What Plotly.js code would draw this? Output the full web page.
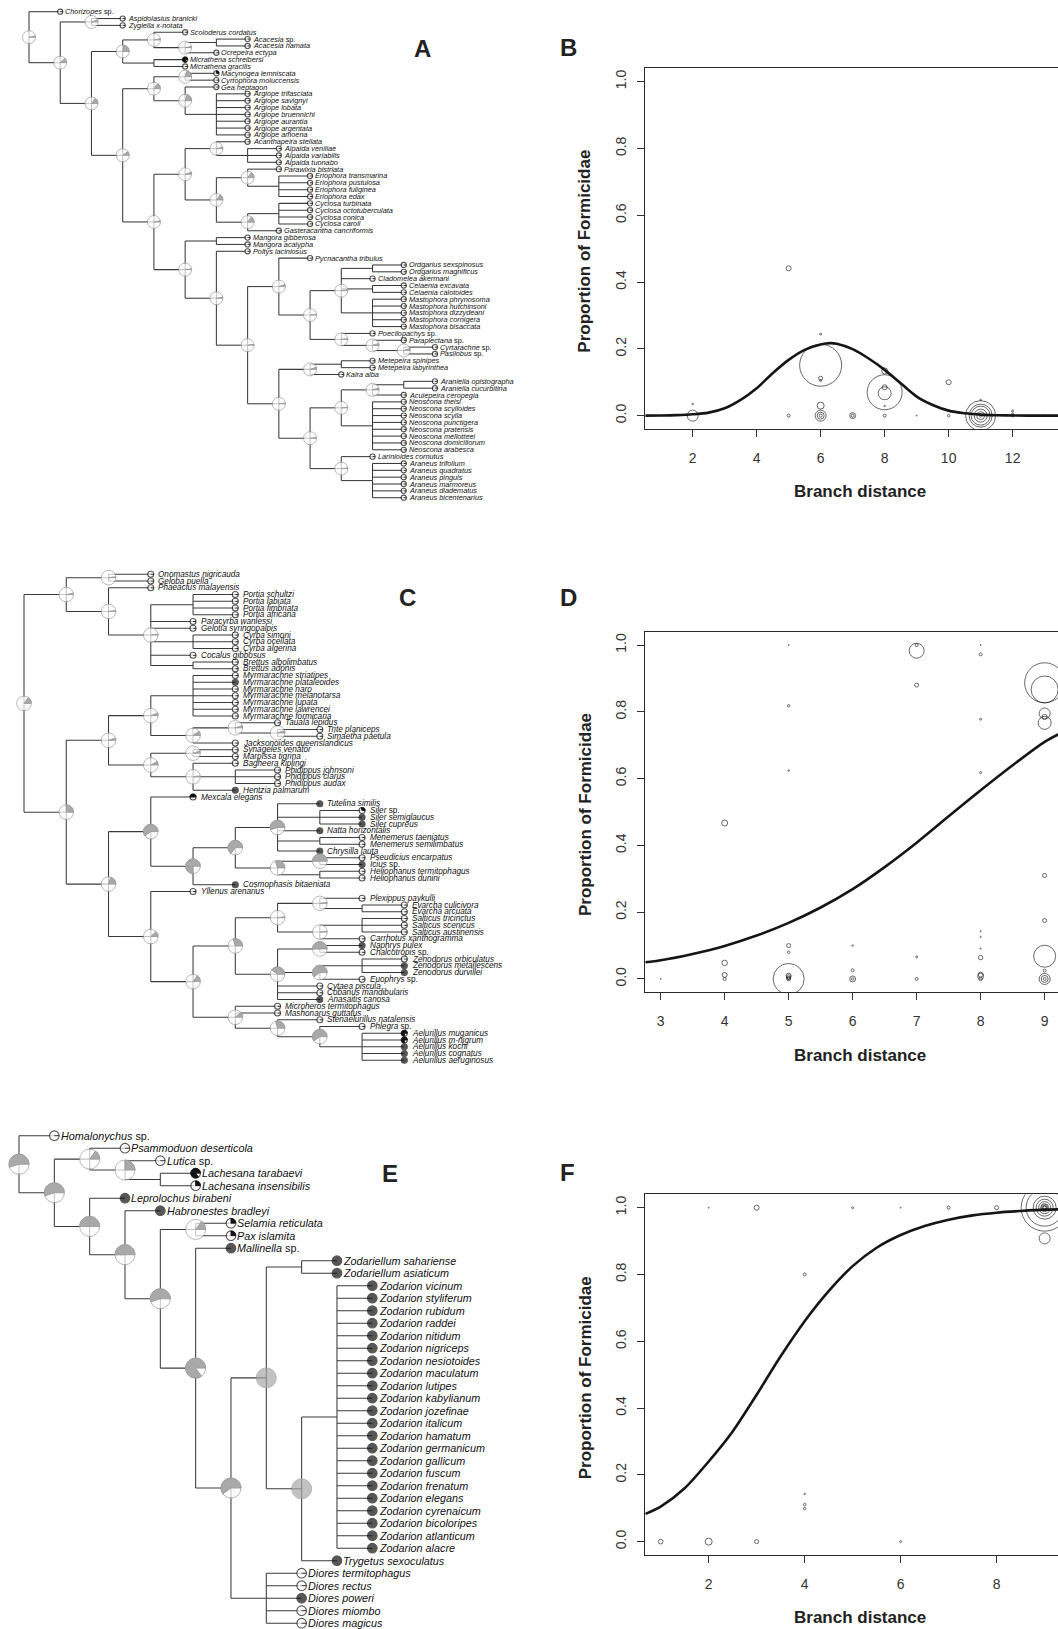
<!DOCTYPE html>
<html><head><meta charset="utf-8">
<script src="https://cdn.plot.ly/plotly-3.0.1.min.js"></script>
<style>html,body{margin:0;padding:0;overflow:hidden;background:#fff}</style>
</head><body><div id="chart"></div>
<script>
// ================= DATA =================
// Panel B
const bX = [2,2,5,5,6,6,6,6,6,6,6,6,7,7,8,8,8,8,8,8,9,10,10,11,11,11,11,11,11,11,12,12,12,13];
const bY = [0.035,0,0.441,0,0.244,0.151,0.112,0.105,0.03,0,0,0,0,0,0.134,0.085,0.07,0.067,0.029,0,0,0.1,0,0.047,0,0,0,0,0,0,0.014,0.005,0,0];
const bS = [1.5,11,5,3,2,42,4,2,7,11,7,3,6,3,6,5,35,13,1.5,3,1,5,2.5,1.5,30,23,19,13,8,3,2,2,2.5,1.5];
const bCurveX = [0.52,1,1.5,2,2.5,3,3.5,4,4.5,5,5.5,6,6.3,6.5,7,7.5,8,8.5,9,9.5,10,10.5,11,11.5,12,13,13.48];
const bCurveY = [0,0.0003,0.0015,0.004,0.009,0.022,0.047,0.082,0.127,0.167,0.197,0.213,0.217,0.215,0.199,0.171,0.137,0.097,0.057,0.032,0.015,0.007,0.003,0.0013,0.0005,0,0];
const bXTicks = [2,4,6,8,10,12];

// Panel D
const dX = [3,4,4,4,4,5,5,5,5,5,5,5,5,5,5,6,6,6,6,7,7,7,7,7,8,8,8,8,8,8,8,8,8,8,8,9,9,9,9,9,9,9,9,9,9,9,9];
const dY = [0,0.467,0.048,0.012,0,1,0.818,0.624,0.1,0.08,0,0.01,0.006,0.003,0,0.1,0.026,0,0,1,0.983,0.88,0.066,0,1,0.972,0.778,0.618,0.143,0.126,0.091,0.064,0.013,0.008,0,0.887,0.867,0.795,0.785,0.767,0.31,0.175,0.068,0.025,0,0,0];
const dS = [1,6,5.5,5,3,1,2.5,1.5,4,2.5,31,5,4.5,3.5,4,1.5,3,6,2.5,3,15,4,2,3,1,3,2,2,1.2,1.2,1.2,4.5,5,6,3.5,40,27,11,5,13,4,4,22,3,11,7,3];
const dCurveX = [2.76,3,3.5,4,4.5,5,5.5,6,6.5,7,7.5,8,8.5,9,9.24];
const dCurveY = [0.05,0.056,0.075,0.099,0.13,0.168,0.214,0.269,0.335,0.408,0.487,0.565,0.64,0.71,0.735];
const dXTicks = [3,4,5,6,7,8,9];

// Panel F
const fX = [1,2,2,3,3,4,4,4,4,5,6,6,7,8,9,9,9,9,9,9,9,9,9,9];
const fY = [0,1,0,1,0,0.8,0.143,0.111,0.099,1,1,0,1,1,1,1,1,1,1,1,1,1,1,0.908];
const fS = [4.7,1,7,5,4,3,1.5,2.5,2.5,2,1,2,3,4,47,37,23,17,12,8,6,4,3,11];
const fCurveX = [0.68,1,1.5,2,2.5,3,3.5,4,4.5,5,5.5,6,6.5,7,7.5,8,8.5,9,9.32];
const fCurveY = [0.083,0.105,0.16,0.24,0.33,0.44,0.555,0.66,0.75,0.825,0.88,0.918,0.945,0.964,0.977,0.985,0.99,0.994,0.995];
const fXTicks = [2,4,6,8];

const yTicks = [0,0.2,0.4,0.6,0.8,1.0];
const yTickText = ['0.0','0.2','0.4','0.6','0.8','1.0'];

// Tree A (Araneidae)
const A_n7 = "((Ordgarius sexspinosus,Ordgarius magnificus),Cladomelea akermani,(Celaenia excavata,Celaenia calotoides),(Mastophora phrynosoma,Mastophora hutchinsoni,Mastophora dizzydeani,Mastophora cornigera,Mastophora bisaccata))";
const A_n8 = "(Poecilopachys sp.,(Paraplectana sp.,(Cyrtarachne sp.,Pasilobus sp.)))";
const A_n13 = "(((Araniella opistographa,Araniella cucurbitina),Aculepeira ceropegia),(Neoscona theisi,Neoscona scylloides,Neoscona scylla,Neoscona punctigera,Neoscona pratensis,Neoscona mellotteei,Neoscona domiciliorum,Neoscona arabesca))";
const A_n14 = "(Larinioides cornutus,(Araneus trifolium,Araneus quadratus,Araneus pinguis,Araneus marmoreus,Araneus diadematus,Araneus bicentenarius))";
const A_n11 = "((Metepeira spinipes,Metepeira labyrinthea),Kaira alba)";
const A_n553d = "((Acanthapeira stellata,(Alpaida veniliae,Alpaida variabilis,Alpaida tuonabo)),((Parawixia bistriata,(Eriophora transmarina,Eriophora pustulosa,Eriophora fuliginea,Eriophora edax)),((Cyclosa turbinata,Cyclosa octotuberculata,Cyclosa conica,Cyclosa caroli),Gasteracantha cancriformis)))";
const A_n460b = "((Macynogea lemniscata,Cyrtophora moluccensis),(Gea heptagon,(Argiope trifasciata,Argiope savignyi,Argiope lobata,Argiope bruennichi,Argiope aurantia,Argiope argentata,Argiope amoena)))";
const A_n367a = "((Scoloderus cordatus,((Acacesia sp.,Acacesia hamata),Ocrepeira ectypa)),(Micrathena schreibersi,Micrathena gracilis))";
const A_n3 = "((Pycnacantha tribulus,(" + A_n7 + "," + A_n8 + ")),(" + A_n11 + ",(" + A_n13 + "," + A_n14 + ")))";
const A_n1 = "((Mangora gibberosa,Mangora acalypha),(Poltys laciniosus," + A_n3 + "))";
const newickA = "(Chorizopes sp.,((Aspidolasius branicki,Zygiella x-notata),(" + A_n367a + ",(" + A_n460b + ",(" + A_n553d + "," + A_n1 + ")))));";
const pieValsA = [0.03,0.12,0.05,0.15,0.22,0.03,0.03,0.1,0.15,0.2,0.2,0.03,0.05,0.03,0.15,0.15,0.15,0.02,0.02,0.02,0.05,0.02,0.02,0.02,0.05,0.05,0.02,0.05,0.02,0.02,0.05,0.02];
const tipBlackNamesA = ["Micrathena schreibersi","Macynogea lemniscata"];
const tipBlackValsA = [0.85,0.25];

// Tree C (Salticidae)
const C_a4 = "((Portia schultzi,Portia labiata,Portia fimbriata,Portia africana),Paracyrba wanlessi,Gelotia syringopalpis,(Cyrba simoni,Cyrba ocellata,Cyrba algerina),Cocalus gibbosus,(Brettus albolimbatus,Brettus adonis))";
const C_a1 = "((Onomastus nigricauda,Geloba puella),(Phaeacius malayensis," + C_a4 + "))";
const C_b4 = "((Myrmarachne striatipes,Myrmarachne plataleoides,Myrmarachne naro,Myrmarachne melanotarsa,Myrmarachne lupata,Myrmarachne lawrencei,Myrmarachne formicaria),((Tauala lepidus,(Trite planiceps,Simaetha paetula)),Jacksonoides queenslandicus))";
const C_b5 = "((Synageles venator,Marpissa tigrina),(Bagheera kiplingi,(Phidippus johnsoni,Phidippus clarus,Phidippus audax),Hentzia palmarum))";
const C_c5 = "(Tutelina similis,(Siler sp.,Siler semiglaucus,Siler cupreus),Natta horizontalis,(Menemerus taeniatus,Menemerus semilimbatus),Chrysilla lauta)";
const C_c6 = "((Pseudicius encarpatus,Icius sp.),(Heliophanus termitophagus,Heliophanus dunini))";
const C_c11 = "((Plexippus paykulli,(Evarcha culicivora,Evarcha arcuata)),((Salticus tricinctus,Salticus scenicus,Salticus austinensis),Carrhotus xanthogramma))";
const C_c12 = "((Naphrys pulex,Chalcotropis sp.),((Zenodorus orbiculatus,Zenodorus metallescens,Zenodorus durvillei),Euophrys sp.),Cytaea piscula,Cobanus mandibularis,Anasaitis canosa)";
const C_c10 = "(Microheros termitophagus,Mashonarus guttatus,(Stenaelurillus natalensis,(Phlegra sp.,(Aelurillus muganicus,Aelurillus m-nigrum,Aelurillus kochi,Aelurillus cognatus,Aelurillus aeruginosus))))";
const C_b3 = "((Mexcala elegans,((" + C_c5 + "," + C_c6 + "),Cosmophasis bitaeniata)),(Yllenus arenarius,((" + C_c11 + "," + C_c12 + ")," + C_c10 + ")))";
const newickC = "(" + C_a1 + ",((" + C_b4 + "," + C_b5 + ")," + C_b3 + "));";
const pieValsC = [0.15,0.03,0.02,0.02,0.02,0.25,0.05,0.06,0.1,0.05,0.05,0.08,0.05,0.02,0.2,0.6,0.75,0.65,0.55,0.3,0.5,0.12,0.15,0.3,0.02,0.02,0.02,0.4,0.5,0.6,0.12,0.3,0.6];
const tipBlackNamesC = ["Myrmarachne plataleoides","Hentzia palmarum","Mexcala elegans","Tutelina similis","Siler sp.","Siler semiglaucus","Siler cupreus","Natta horizontalis","Chrysilla lauta","Icius sp.","Cosmophasis bitaeniata","Naphrys pulex","Zenodorus metallescens","Zenodorus durvillei","Anasaitis canosa","Aelurillus muganicus","Aelurillus m-nigrum","Aelurillus kochi","Aelurillus cognatus","Aelurillus aeruginosus"];
const tipBlackValsC = [1,1,0.5,1,0.3,1,1,1,1,1,1,1,1,1,1,0.75,0.75,1,1,1];

// Tree E (Zodariidae)
const E_zod = "(Zodarion vicinum,Zodarion styliferum,Zodarion rubidum,Zodarion raddei,Zodarion nitidum,Zodarion nigriceps,Zodarion nesiotoides,Zodarion maculatum,Zodarion lutipes,Zodarion kabylianum,Zodarion jozefinae,Zodarion italicum,Zodarion hamatum,Zodarion germanicum,Zodarion gallicum,Zodarion fuscum,Zodarion frenatum,Zodarion elegans,Zodarion cyrenaicum,Zodarion bicoloripes,Zodarion atlanticum,Zodarion alacre)";
const E_dio = "(Diores termitophagus,Diores rectus,Diores poweri,Diores miombo,Diores magicus)";
const E_e10 = "(((Zodariellum sahariense,Zodariellum asiaticum),(" + E_zod + ",Trygetus sexoculatus))," + E_dio + ")";
const newickE = "(Homalonychus sp.,((Psammoduon deserticola,(Lutica sp.,(Lachesana tarabaevi,Lachesana insensibilis))),(Leprolochus birabeni,(Habronestes bradleyi,((Selamia reticulata,Pax islamita),(Mallinella sp.," + E_e10 + "))))));";
const pieValsE = [0.55,0.55,0.15,0.25,0.5,0.5,0.55,0.15,0.85,0.6,1,1];
const tipValsE = [0,0,0,0.85,0.25,1,1,0.25,0.25,1,1,1,1,1,1,1,1,1,1,1,1,1,1,1,1,1,1,1,1,1,1,1,1,1,1,0,0,1,0,0];

// ================= BUILD =================
const W = 1062, H = 1629;
const FONT = 'Liberation Sans, Arial, Helvetica, sans-serif';
const GREY = '#a9a9a9', GREYLINE = '#9a9a9a', BLACK = '#111111';

function parseNewick(s){
  let i = 0;
  function node(){
    if (s[i] === '('){
      i++; const kids = [];
      while (true){
        kids.push(node());
        if (s[i] === ','){ i++; continue; }
        if (s[i] === ')'){ i++; break; }
        throw new Error('bad newick at ' + i);
      }
      return {children: kids};
    }
    const st = i;
    while (i < s.length && !',();'.includes(s[i])) i++;
    return {name: s.slice(st, i).trim()};
  }
  return node();
}

function labelHTML(name){
  const m = name.match(/^(.*) sp\.$/);
  return m ? '<i>' + m[1] + '</i> sp.' : '<i>' + name + '</i>';
}

function sectorPath(r, p){
  if (p <= 0) return 'M0,0 L' + r + ',0';
  const n = Math.max(4, Math.ceil(60 * p));
  let d = 'M0,0 L' + r + ',0';
  for (let k = 1; k <= n; k++){
    const a = 2 * Math.PI * p * k / n;
    d += ' L' + (r * Math.cos(a)).toFixed(2) + ',' + (r * Math.sin(a)).toFixed(2);
  }
  return d + ' Z';
}

const traces = [], shapes = [], annotations = [];

function drawTree(newick, pieVals, tipVal, cfg){
  const root = parseNewick(newick);
  const tips = [], internals = [];
  (function walk(n, depth){
    n.depth = depth;
    if (!n.children){
      n.y = tips.length; tips.push(n);
      n.genera = new Set([n.name.split(' ')[0]]);
      return;
    }
    internals.push(n);
    n.children.forEach(c => walk(c, depth + 1));
    n.y = (n.children[0].y + n.children[n.children.length - 1].y) / 2;
    n.genera = new Set();
    n.children.forEach(c => c.genera.forEach(g => n.genera.add(g)));
  })(root, 0);

  // branches
  const lx = [], ly = [];
  internals.forEach(n => {
    const f = n.children[0], l = n.children[n.children.length - 1];
    lx.push(n.depth, n.depth, null); ly.push(f.y, l.y, null);
    n.children.forEach(c => { lx.push(n.depth, c.depth, null); ly.push(c.y, c.y, null); });
  });
  traces.push({type:'scatter', mode:'lines', x:lx, y:ly, xaxis:cfg.xa, yaxis:cfg.ya,
    line:{color:'#3a3a3a', width:1.05}, hoverinfo:'skip'});

  // pies
  const pies = [];
  let k = 0;
  internals.forEach(n => { if (n.genera.size > 1){ pies.push({n, p: pieVals[k] || 0, r: cfg.rNode, fill: GREY, line: GREYLINE, w: 1}); k++; } });
  tips.forEach((t, i) => pies.push({n:t, p: tipVal(t.name, i), r: cfg.rTip, fill: BLACK, line: BLACK, w: cfg.tipW}));

  traces.push({type:'scatter', mode:'markers', xaxis:cfg.xa, yaxis:cfg.ya, cliponaxis:false, hoverinfo:'skip',
    x: pies.map(o => o.n.depth), y: pies.map(o => o.n.y),
    marker:{symbol:'circle', size: pies.map(o => 2 * o.r),
      color: pies.map(o => o.p >= 0.999 ? o.fill : '#ffffff'),
      line:{color: pies.map(o => o.line), width: pies.map(o => o.w)}}});

  pies.forEach(o => {
    if (o.p >= 0.999) return;
    shapes.push({type:'path', xref:cfg.xa, yref:cfg.ya, xsizemode:'pixel', ysizemode:'pixel',
      xanchor:o.n.depth, yanchor:o.n.y, path: sectorPath(o.r, o.p),
      fillcolor: o.p > 0 ? o.fill : 'rgba(0,0,0,0)', line:{color:o.line, width:0.9}, layer:'above'});
  });

  tips.forEach(t => {
    annotations.push({xref:cfg.xa, yref:cfg.ya, x:t.depth, y:t.y, xshift:cfg.shift, xanchor:'left', yanchor:'middle',
      text: labelHTML(t.name), showarrow:false, borderpad:0,
      font:{family:FONT, size:cfg.fs, color:'#111'}});
  });
}

function treeAxes(left, right, top, bottom, x0, dx, y0, dy, anchorX, anchorY){
  return [
    {domain:[left / W, right / W], range:[(left - x0) / dx, (right - x0) / dx], visible:false, fixedrange:true, anchor:anchorY},
    {domain:[1 - bottom / H, 1 - top / H], range:[(bottom - y0) / dy, (top - y0) / dy], visible:false, fixedrange:true, anchor:anchorX}
  ];
}

function nameMap(names, vals){ const m = {}; names.forEach((n, i) => m[n] = vals[i]); return m; }
const mapA = nameMap(tipBlackNamesA, tipBlackValsA);
const mapC = nameMap(tipBlackNamesC, tipBlackValsC);

drawTree(newickA, pieValsA, (nm) => mapA[nm] || 0, {xa:'x4', ya:'y4', rNode:6.5, rTip:2.6, tipW:1.1, fs:7.3, shift:4});
drawTree(newickC, pieValsC, (nm) => mapC[nm] || 0, {xa:'x5', ya:'y5', rNode:7.3, rTip:3, tipW:1.1, fs:8.2, shift:6.5});
drawTree(newickE, pieValsE, (nm, i) => tipValsE[i] || 0, {xa:'x6', ya:'y6', rNode:10, rTip:4.8, tipW:1.1, fs:10.8, shift:5.5});

// scatter panels
function bubbles(x, y, s, xa, ya){
  traces.push({type:'scatter', mode:'markers', x, y, xaxis:xa, yaxis:ya, hoverinfo:'skip',
    marker:{symbol:'circle', size:s, color:'rgba(0,0,0,0)', line:{color:'#111', width:0.9}}});
}
function curve(x, y, xa, ya){
  traces.push({type:'scatter', mode:'lines', x, y, xaxis:xa, yaxis:ya, hoverinfo:'skip',
    line:{color:'#151515', width:2.6, shape:'spline', smoothing:0.8}});
}
bubbles(bX, bY, bS, 'x', 'y'); curve(bCurveX, bCurveY, 'x', 'y');
bubbles(dX, dY, dS, 'x2', 'y2'); curve(dCurveX, dCurveY, 'x2', 'y2');
bubbles(fX, fY, fS, 'x3', 'y3'); curve(fCurveX, fCurveY, 'x3', 'y3');

function panelAxes(top, bottom, xr, xticks, ax, ay){
  const common = {ticks:'outside', ticklen:7, tickwidth:1, tickcolor:'#333', showline:true, linecolor:'#2a2a2a', linewidth:1.1,
    showgrid:false, zeroline:false, fixedrange:true, tickfont:{family:FONT, size:14, color:'#333'}};
  return [
    Object.assign({}, common, {domain:[645.3 / W, 1060 / W], range:xr, tickmode:'array', tickvals:xticks, mirror:true, anchor:ay, ticklabelstandoff:9}),
    Object.assign({}, common, {domain:[1 - bottom / H, 1 - top / H], range:[-0.04, 1.04], tickmode:'array', tickvals:yTicks, ticktext:yTickText, tickangle:-90, anchor:ax, ticklabelstandoff:6})
  ];
}
const [xB, yB] = panelAxes(68.3, 429, [0.52, 13.48], bXTicks, 'x', 'y');
const [xD, yD] = panelAxes(631.7, 992.3, [2.76, 9.24], dXTicks, 'x2', 'y2');
const [xF, yF] = panelAxes(1194.3, 1555, [0.68, 9.32], fXTicks, 'x3', 'y3');
const [xA4, yA4] = treeAxes(0, 560, 0, 540, 29, 31.23, 11.7, 6.845, 'x4', 'y4');
const [xC5, yC5] = treeAxes(0, 560, 545, 1100, 24, 42.26, 574.3, 6.75, 'x5', 'y5');
const [xE6, yE6] = treeAxes(0, 560, 1105, 1629, 19, 35.33, 1135.7, 12.5, 'x6', 'y6');

function paperText(px, py, text, size, angle){
  annotations.push({xref:'paper', yref:'paper', x:px / W, y:1 - py / H, xanchor:'center', yanchor:'middle',
    text, showarrow:false, textangle:angle || 0, font:{family:FONT, size, color:'#222'}});
}
// panel letters
paperText(422, 48, '<b>A</b>', 24); paperText(568, 47, '<b>B</b>', 24);
paperText(407, 598, '<b>C</b>', 24); paperText(568, 598, '<b>D</b>', 24);
paperText(390, 1173, '<b>E</b>', 24); paperText(567, 1172, '<b>F</b>', 24);
// axis titles
[[491.7, 251.7], [1055, 815], [1617.3, 1378.3]].forEach(([tx, ty]) => {
  paperText(860, tx, '<b>Branch distance</b>', 17);
  paperText(585, ty, '<b>Proportion of Formicidae</b>', 17, -90);
});

const layout = {
  width: W, height: H, margin:{l:0, r:0, t:0, b:0}, paper_bgcolor:'#fff', plot_bgcolor:'rgba(0,0,0,0)',
  showlegend:false, font:{family:FONT},
  xaxis:xB, yaxis:yB, xaxis2:xD, yaxis2:yD, xaxis3:xF, yaxis3:yF,
  xaxis4:xA4, yaxis4:yA4, xaxis5:xC5, yaxis5:yC5, xaxis6:xE6, yaxis6:yE6,
  shapes, annotations
};
Plotly.newPlot('chart', traces, layout, {displayModeBar:false, staticPlot:true});
</script></body></html>
